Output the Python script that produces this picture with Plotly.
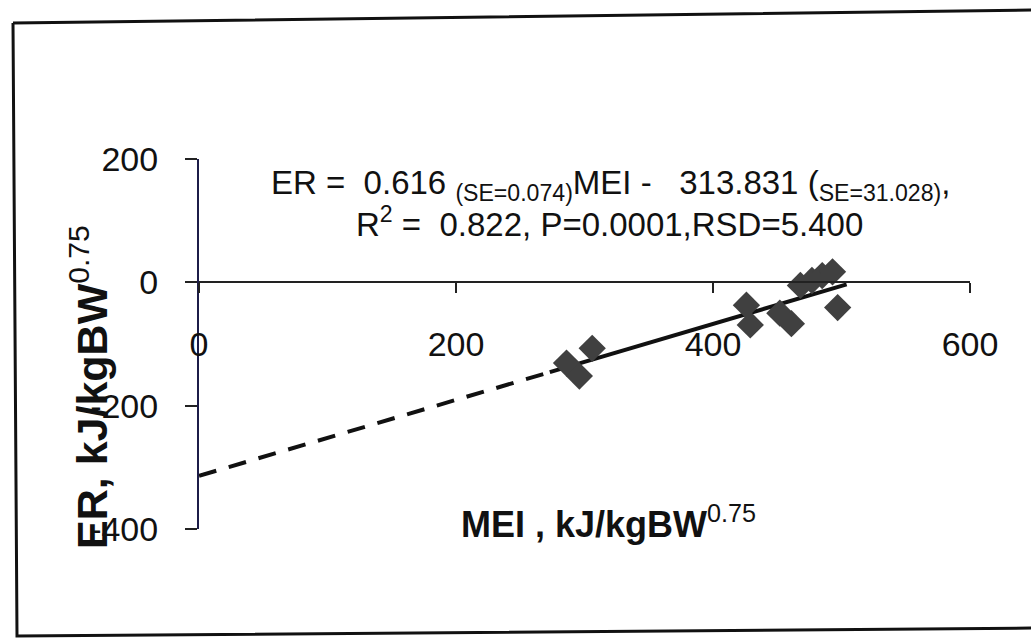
import plotly.graph_objects as go

# Observed points: metabolizable energy intake vs. energy retention
mei = [286, 296, 306, 426, 429, 452, 461, 468, 477, 485, 493, 497]
er = [-131, -152, -107, -37, -69, -50, -67, -5, 3, 11, 17, -41]

# Fitted regression: ER = slope * MEI + intercept
slope = 0.616
intercept = -313.831
fit_solid_x = [273, 504]     # range covered by the data
fit_dash_x = [0, 273]        # extrapolation back to MEI = 0

x_ticks = [0, 200, 400, 600]
x_tick_text = ["0", "200", "400", "600"]
y_ticks = [-400, -200, 0, 200]
y_tick_text = ["-400", "-200", "0", "200"]

W, H = 1031, 638
ML, MR, MT, MB = 199, 61, 159, 109
FONT = "Arial, Liberation Sans, sans-serif"


def xp(px):
    return (px - ML) / (W - ML - MR)


def yp(py):
    return (H - MB - py) / (H - MT - MB)


fig = go.Figure()

fig.add_trace(go.Scatter(
    x=fit_dash_x, y=[slope * v + intercept for v in fit_dash_x],
    mode="lines", line=dict(color="#111111", width=4, dash="18px,13px"),
    showlegend=False, hoverinfo="skip"))
fig.add_trace(go.Scatter(
    x=fit_solid_x, y=[slope * v + intercept for v in fit_solid_x],
    mode="lines", line=dict(color="#111111", width=4),
    showlegend=False, hoverinfo="skip"))
fig.add_trace(go.Scatter(
    x=mei, y=er, mode="markers",
    marker=dict(symbol="diamond", size=21, color="#404040",
                line=dict(width=0)),
    showlegend=False))

# Outer chart frame (slightly skewed)
frame = "M {0},{1} L {2},{3} M {0},{1} L {4},{5} L {6},{7}".format(
    xp(13), yp(23), xp(1040), yp(10), xp(17), yp(636), xp(1040), yp(628))
fig.add_shape(type="path", path=frame, xref="paper", yref="paper",
              line=dict(color="#111111", width=3))


def label(px, py, text, size, angle=0):
    fig.add_annotation(
        x=xp(px), y=yp(py), xref="paper", yref="paper", showarrow=False,
        xanchor="center", yanchor="middle", textangle=angle,
        text=text, font=dict(family=FONT, size=size, color="#111111"))


label(610, 185,
      "ER =\u00a0 0.616 <sub>(SE=0.074)</sub>MEI -\u00a0\u00a0 313.831 (<sub>SE=31.028)</sub>,",
      33)
label(609, 222, "R<sup>2</sup> =\u00a0 0.822, P=0.0001,RSD=5.400", 33)

label(608, 522, "<b>MEI , kJ/kgBW</b><sup>0.75</sup>", 36)
label(89, 387, "<b>ER, kJ/kgBW</b><sup>0.75</sup>", 43, -90)

fig.update_layout(
    width=W, height=H,
    margin=dict(l=ML, r=MR, t=MT, b=MB),
    paper_bgcolor="white", plot_bgcolor="white",
    xaxis=dict(
        range=[0, 600], tickvals=x_ticks, ticktext=x_tick_text,
        showgrid=False, zeroline=False, showline=True,
        linecolor="#222222", linewidth=2,
        ticks="outside", ticklen=10, tickwidth=2, tickcolor="#222222",
        anchor="free", position=400 / 600, ticklabelstandoff=22,
        tickfont=dict(family=FONT, size=34, color="#111111")),
    yaxis=dict(
        range=[-400, 200], tickvals=y_ticks, ticktext=y_tick_text,
        showgrid=False, zeroline=False, showline=True,
        linecolor="#1c1c48", linewidth=2,
        ticks="outside", ticklen=12, tickwidth=2, tickcolor="#222222",
        ticklabelstandoff=20,
        tickfont=dict(family=FONT, size=34, color="#111111")),
)

fig.write_html("out.html")
